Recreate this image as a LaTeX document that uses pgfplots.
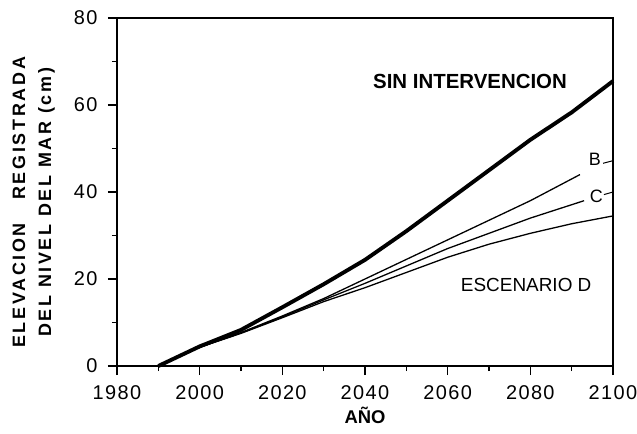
\documentclass[border=0pt]{standalone}
\usepackage{pgfplots}
\pgfplotsset{compat=1.18}
\usepackage{fontspec}
\setmainfont{Liberation Sans}
\newfontfamily\tickfont[LetterSpace=7]{Liberation Sans}
\newfontfamily\labfont[LetterSpace=15]{Liberation Sans}

% Sea-level rise scenarios (cm)
\pgfplotstableread{
year  val
1990  0
2000  4.5
2010  8.3
2020  13.5
2030  18.8
2040  24.4
2050  31
2060  38
2070  45
2080  52
2090  58.3
2100  65.5
}\sinint
\pgfplotstableread{
year  val
1990  0
2000  4.3
2010  7.7
2020  11.5
2030  15.5
2040  20
2050  24.5
2060  29
2070  33.5
2080  38
2092  44
}\escB
\pgfplotstableread{
year  val
1990  0
2000  4.3
2010  7.6
2020  11.3
2030  15.2
2040  19
2050  23
2060  27
2070  30.5
2080  34
2093  38
}\escC
\pgfplotstableread{
year  val
1990  0
2000  4.3
2010  7.5
2020  11.1
2030  14.8
2040  18
2050  21.5
2060  25
2070  28
2080  30.5
2090  32.7
2100  34.5
}\escD

\begin{document}
\begin{tikzpicture}
\begin{axis}[
  scale only axis,
  width=496bp, height=348bp,
  xmin=1980, xmax=2100, ymin=0, ymax=80,
  xtick={1980,2000,...,2100},
  ytick={0,20,...,80},
  minor xtick={1990,2010,...,2090},
  minor ytick={10,30,...,70},
  tick align=outside,
  xtick pos=bottom, ytick pos=left,
  major tick length=9bp, minor tick length=5bp,
  every tick/.style={black, line width=1.4pt},
  axis line style={line width=1.6pt},
  /pgf/number format/assume math mode=true,
  /pgf/number format/1000 sep={},
  tick label style={font=\tickfont\fontsize{20}{22}\selectfont},
  xticklabel={\rule{0pt}{21bp}\pgfmathprintnumber{\tick}},
  yticklabel={\pgfmathprintnumber{\tick}},
  yticklabel style={anchor=east, xshift=-7bp},
  xlabel={\bfseries AÑO},
  every axis x label/.style={at={([yshift=-49bp]rel axis cs:0.5,0)}, anchor=center,
    font=\fontsize{18.5}{20}\selectfont},
  ylabel={\bfseries\begin{tabular}{c}ELEVACION\hspace{1.3em}REGISTRADA\\DEL NIVEL DEL MAR (cm)\end{tabular}},
  every axis y label/.style={at={([xshift=-84bp]rel axis cs:0,0.47)}, rotate=90, anchor=center,
    font=\labfont\fontsize{18}{26}\selectfont},
  clip=false,
]
\addplot[black, line width=3.9pt] table[x=year,y=val]{\sinint};
\addplot[black, line width=1.3pt] table[x=year,y=val]{\escB};
\addplot[black, line width=1.3pt] table[x=year,y=val]{\escC};
\addplot[black, line width=1.3pt] table[x=year,y=val]{\escD};

\node[font=\fontsize{20.5}{22}\selectfont\bfseries] at (axis cs:2065.4,65.3) {SIN INTERVENCION};
\node[font=\fontsize{19}{22}\selectfont] at (axis cs:2079,18.6) {ESCENARIO D};
\node[font=\fontsize{18}{20}\selectfont] at (axis cs:2095.6,47.4) {B};
\node[font=\fontsize{18}{20}\selectfont] at (axis cs:2096,39) {C};
\draw[line width=1pt] (axis cs:2097.6,46.6) -- (axis cs:2100,47.2);
\draw[line width=1pt] (axis cs:2097.8,39.4) -- (axis cs:2100,40.0);

\coordinate (sw) at (rel axis cs:0,0);
\coordinate (ne) at (rel axis cs:1,1);
\end{axis}
% page margins around the plot area
\pgfresetboundingbox
\path ([shift={(-117bp,-68bp)}]sw) rectangle ([shift={(24bp,18bp)}]ne);
\end{tikzpicture}
\end{document}
